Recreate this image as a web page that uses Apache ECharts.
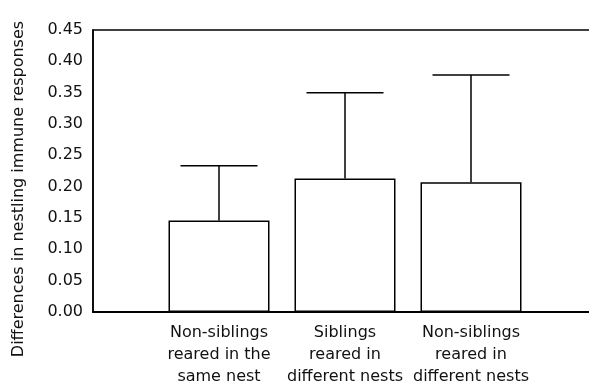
<!DOCTYPE html>
<html>
<head>
<meta charset="utf-8">
<script src="https://cdn.jsdelivr.net/npm/echarts@6/dist/echarts.min.js"></script>
<style>html,body{margin:0;padding:0;background:#fff;}#c{width:589px;height:385px;}</style>
</head>
<body>
<div id="c"></div>
<script>
var categories = ['', 'Non-siblings\nreared in the\nsame nest', 'Siblings\nreared in\ndifferent nests', 'Non-siblings\nreared in\ndifferent nests', ''];
var means = [null, 0.146, 0.213, 0.207, null];
var upperErr = [null, 0.2335, 0.350, 0.378, null];
var yTicks = [0, 0.05, 0.10, 0.15, 0.20, 0.25, 0.30, 0.35, 0.40, 0.45];
var yTitle = 'Differences in nestling immune responses';

var errData = [];
for (var i = 0; i < categories.length; i++) {
  if (means[i] != null) errData.push([i, means[i], upperErr[i]]);
}
var FONT = 'DejaVu Sans';
var chart = echarts.init(document.getElementById('c'), null, {renderer: 'canvas'});
chart.setOption({
  animation: false,
  backgroundColor: '#fff',
  grid: {left: 93, top: 30, width: 504, height: 282, outerBoundsMode: 'none', containLabel: false,
         show: true, borderColor: '#000', borderWidth: 1.5, backgroundColor: 'transparent'},
  xAxis: {
    type: 'category', data: categories, boundaryGap: false,
    axisLine: {lineStyle: {color: '#000', width: 2}},
    axisTick: {show: false},
    axisLabel: {color: '#111', fontFamily: FONT, fontSize: 16, lineHeight: 22, margin: 10, interval: 0},
    splitLine: {show: false}
  },
  yAxis: {
    type: 'value', min: 0, max: 0.45, interval: 0.05,
    axisLine: {show: true, lineStyle: {color: '#000', width: 1.5}},
    axisTick: {show: false},
    axisLabel: {color: '#111', fontFamily: FONT, fontSize: 16, margin: 10, formatter: function (v) { return v.toFixed(2); }},
    splitLine: {show: false}
  },
  graphic: [{
    type: 'text', x: 19, y: 189, rotation: Math.PI / 2,
    style: {text: yTitle, fill: '#111', font: '16px "DejaVu Sans"', align: 'center', verticalAlign: 'middle'}
  }],
  series: [{
    type: 'bar', data: means, barWidth: 101,
    itemStyle: {color: '#fff', borderColor: '#000', borderWidth: 1.5}
  }, {
    type: 'custom', data: errData, z: 3,
    renderItem: function (params, api) {
      var x = api.value(0);
      var p0 = api.coord([x, api.value(1)]);
      var p1 = api.coord([x, api.value(2)]);
      var hw = 38.5;
      return {type: 'group', children: [
        {type: 'line', shape: {x1: p0[0], y1: p0[1], x2: p1[0], y2: p1[1]}, style: {stroke: '#000', lineWidth: 1.5}},
        {type: 'line', shape: {x1: p1[0] - hw, y1: p1[1], x2: p1[0] + hw, y2: p1[1]}, style: {stroke: '#000', lineWidth: 1.5}}
      ]};
    }
  }]
});
</script>
</body>
</html>
